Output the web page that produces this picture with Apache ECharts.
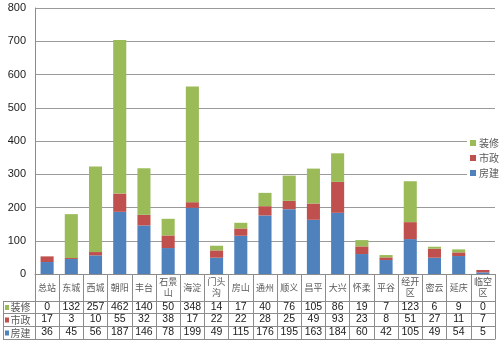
<!DOCTYPE html>
<html>
<head>
<meta charset="utf-8">
<script src="https://cdn.jsdelivr.net/npm/echarts@6/dist/echarts.min.js"></script>
<style>html,body{margin:0;padding:0;background:#fff}#c{width:502px;height:346px}</style>
</head>
<body>
<div id="c"></div>
<script>
var categories = ['总站','东城','西城','朝阳','丰台','石景山','海淀','门头沟','房山','通州','顺义','昌平','大兴','怀柔','平谷','经开区','密云','延庆','临空区'];
var zhuangxiu = [0,132,257,462,140,50,348,14,17,40,76,105,86,19,7,123,6,9,0];
var shizheng  = [17,3,10,55,32,38,17,22,22,28,25,49,93,23,8,51,27,11,7];
var fangjian  = [36,45,56,187,146,78,199,49,115,176,195,163,184,60,42,105,49,54,5];
var seriesNames = ['装修','市政','房建'];
var yTicks = [0,100,200,300,400,500,600,700,800];

var colors = {'装修':'#9BBB59','市政':'#C0504D','房建':'#4F81BD'};
var rows = [['装修', zhuangxiu], ['市政', shizheng], ['房建', fangjian]];

var gridLeft = 35, gridRight = 7, gridTop = 8, axisY = 274;
var rowLines = [301, 313, 326, 339];
var lineColor = '#8c8c8c';
var cjk = '"Noto Sans CJK SC", sans-serif';
var num = '"Liberation Sans", Arial, sans-serif';

var chart = echarts.init(document.getElementById('c'), null, {renderer:'canvas'});

var xAxes = [{
  type:'category', data: categories, gridIndex:0, position:'bottom',
  axisLine:{show:true, lineStyle:{color:lineColor, width:1}},
  axisTick:{show:true, interval:0, length: rowLines[3]-axisY, lineStyle:{color:lineColor}},
  axisLabel:{interval:0, margin:13.5, verticalAlign:'middle', fontFamily:cjk, fontSize:9, lineHeight:11, color:'#595959',
    formatter:function(v){ return v.length>2 ? v.slice(0,2)+'\n'+v.slice(2) : v; }},
  splitLine:{show:false}
}];
rows.forEach(function(r, i){
  xAxes.push({
    type:'category', data: r[1].map(String), gridIndex:0, position:'bottom', offset: rowLines[i]-axisY,
    axisLine:{show:true, lineStyle:{color:lineColor, width:1}},
    axisTick:{show:false},
    axisLabel:{interval:0, margin: (rowLines[i+1]-rowLines[i])/2, verticalAlign:'middle', fontFamily:num, fontSize:10.5, color:'#1a1a1a'}
  });
});
xAxes.push({
  type:'category', data: categories, gridIndex:0, position:'bottom', offset: rowLines[3]-axisY,
  axisLine:{show:true, lineStyle:{color:lineColor, width:1}}, axisTick:{show:false}, axisLabel:{show:false}
});

var graphics = [];
graphics.push({type:'line', shape:{x1:3.5, y1:rowLines[0], x2:3.5, y2:rowLines[3]}, style:{stroke:lineColor, lineWidth:1}});
rowLines.forEach(function(y){
  graphics.push({type:'line', shape:{x1:3, y1:y+0.5, x2:gridLeft, y2:y+0.5}, style:{stroke:lineColor, lineWidth:1}});
});
rows.forEach(function(r, i){
  var cy = (rowLines[i]+rowLines[i+1])/2 + 0.5;
  graphics.push({type:'rect', shape:{x:5, y:cy-2.5, width:4, height:5}, style:{fill:colors[r[0]]}});
  graphics.push({type:'text', x:10.5, y:cy, style:{text:r[0], fill:'#595959', fontFamily:'Noto Sans CJK SC', fontSize:10, verticalAlign:'middle', align:'left'}});
});

var order = [['房建', fangjian], ['市政', shizheng], ['装修', zhuangxiu]];
var option = {
  animation:false,
  backgroundColor:'#fff',
  grid:{left:gridLeft, right:gridRight, top:gridTop, bottom:346-axisY, containLabel:false},
  legend:{
    orient:'vertical', left:467, top:136, data:seriesNames, icon:'rect', itemWidth:6, itemHeight:6, itemGap:5,
    backgroundColor:'#fff', padding:[2,2,2,3],
    textStyle:{fontFamily:cjk, fontSize:10, color:'#595959', padding:[0,0,0,-2]}
  },
  xAxis: xAxes,
  yAxis:{
    type:'value', min:yTicks[0], max:yTicks[yTicks.length-1], interval:100,
    axisLine:{show:true, lineStyle:{color:lineColor}}, axisTick:{show:false},
    axisLabel:{margin:9, fontFamily:num, fontSize:11, color:'#1a1a1a'},
    splitLine:{show:true, lineStyle:{color:'#9a9a9a', width:1}}
  },
  series: order.map(function(o){
    return {name:o[0], type:'bar', stack:'total', data:o[1], xAxisIndex:0, barWidth:'54%',
      itemStyle:{color:colors[o[0]]}};
  }),
  graphic: graphics
};
chart.setOption(option);
</script>
</body>
</html>
